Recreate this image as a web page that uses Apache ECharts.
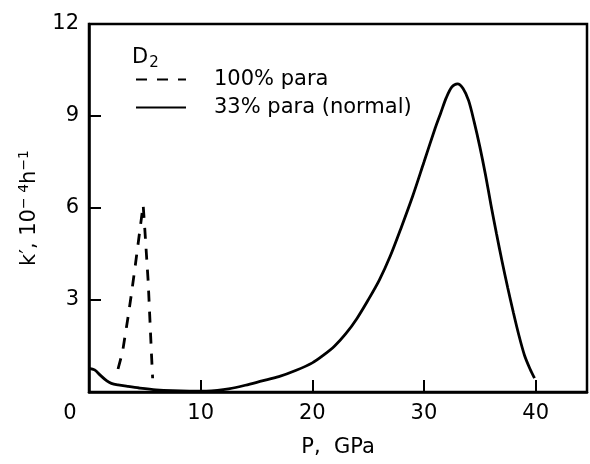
<!DOCTYPE html>
<html>
<head>
<meta charset="utf-8">
<script src="https://cdn.jsdelivr.net/npm/echarts@6/dist/echarts.min.js"></script>
<style>html,body{margin:0;padding:0;background:#fff}#c{width:590px;height:464px}</style>
</head>
<body>
<div id="c"></div>
<script>
var xTicks = [0, 10, 20, 30, 40];
var yTicks = [3, 6, 9, 12];
var paraP = [2.6, 3.0, 3.5, 3.8, 4.1, 4.35, 4.6, 4.85, 5.0, 5.15, 5.3, 5.4, 5.5, 5.6, 5.7];
var paraK = [0.75, 1.3, 2.45, 3.2, 4.0, 4.7, 5.4, 6.1, 5.3, 4.45, 3.6, 2.8, 2.0, 1.2, 0.45];
var normP = [0, 0.5, 1.0, 1.6, 2.0, 2.6, 3.5, 4.5, 6, 7.5, 9, 10.5, 11.5, 12.5, 14, 15.5, 17, 18.5, 20, 21, 22, 23, 24, 25, 26, 27, 28, 29, 30, 31, 31.5, 32, 32.5, 33, 33.5, 34, 34.5, 35, 35.5, 36, 36.5, 37, 37.5, 38, 38.5, 39, 39.5, 39.9];
var normK = [0.77, 0.72, 0.55, 0.36, 0.28, 0.23, 0.18, 0.13, 0.07, 0.04, 0.03, 0.03, 0.05, 0.1, 0.22, 0.36, 0.5, 0.7, 0.95, 1.2, 1.5, 1.9, 2.4, 3.0, 3.65, 4.45, 5.4, 6.4, 7.5, 8.6, 9.1, 9.6, 9.95, 10.05, 9.9, 9.5, 8.8, 8.0, 7.1, 6.1, 5.15, 4.25, 3.4, 2.6, 1.85, 1.2, 0.75, 0.45];
var names = ['100% para', '33% para (normal)'];

function pairs(a, b) { return a.map(function (v, i) { return [v, b[i]]; }); }

var FONT = 'DejaVu Sans';
var chart = echarts.init(document.getElementById('c'));
chart.setOption({
  animation: false,
  textStyle: { fontFamily: FONT, color: '#000' },
  grid: { left: 89, right: 2, top: 24, bottom: 72, show: true, borderColor: '#000', borderWidth: 2.5 },
  xAxis: {
    type: 'value', min: 0, max: 44.6, interval: 10,
    axisLine: { lineStyle: { color: '#000', width: 2.5 } },
    axisTick: { inside: true, length: 12, lineStyle: { color: '#000', width: 2 } },
    axisLabel: { fontSize: 21, color: '#000', margin: 11, fontFamily: FONT,
      formatter: function (v) { return v === 0 ? '{z|0}' : (xTicks.indexOf(v) >= 0 ? String(v) : ''); },
      rich: { z: { fontSize: 21, fontFamily: FONT, color: '#000', padding: [0, 38, 0, 0] } } },
    splitLine: { show: false },
    name: 'P,  GPa', nameLocation: 'middle', nameGap: 45,
    nameTextStyle: { fontSize: 21, color: '#000', fontFamily: FONT }
  },
  yAxis: {
    type: 'value', min: 0, max: 12, interval: 3,
    axisLine: { lineStyle: { color: '#000', width: 2.5 } },
    axisTick: { inside: true, length: 12, lineStyle: { color: '#000', width: 2 } },
    axisLabel: { fontSize: 21, color: '#000', margin: 10, fontFamily: FONT,
      formatter: function (v) { return yTicks.indexOf(v) >= 0 ? String(v) : ''; } },
    splitLine: { show: false },
    name: 'k\u2032, 10{s|\u2212 4}h{s|\u22121}', nameLocation: 'middle', nameGap: 47, nameRotate: 90,
    nameTextStyle: { fontSize: 21, color: '#000', fontFamily: FONT,
      rich: { s: { fontSize: 14, fontFamily: FONT, color: '#000', padding: [0, 0, 11, 0] } } }
  },
  legend: {
    orient: 'vertical', left: 130, top: 64, itemWidth: 50, itemHeight: 14, itemGap: 7,
    data: names,
    itemStyle: { opacity: 0 },
    textStyle: { fontSize: 21, color: '#000', fontFamily: FONT, lineHeight: 21, padding: [0, 0, 0, 23] }
  },
  graphic: [{
    type: 'text', left: 132, top: 47,
    style: { text: 'D{sub|2}', font: '21px ' + FONT, fill: '#000',
      rich: { sub: { fontSize: 15, fontFamily: FONT, fill: '#000', padding: [11, 0, 0, 1] } } }
  }],
  series: [
    { name: names[0], type: 'line', symbol: 'none', data: pairs(paraP, paraK),
      lineStyle: { color: '#000', width: 2.8, type: [11, 10] }, itemStyle: { color: '#000' } },
    { name: names[1], type: 'line', symbol: 'none', smooth: 0.3, data: pairs(normP, normK),
      lineStyle: { color: '#000', width: 2.8 }, itemStyle: { color: '#000' } }
  ]
});
</script>
</body>
</html>
